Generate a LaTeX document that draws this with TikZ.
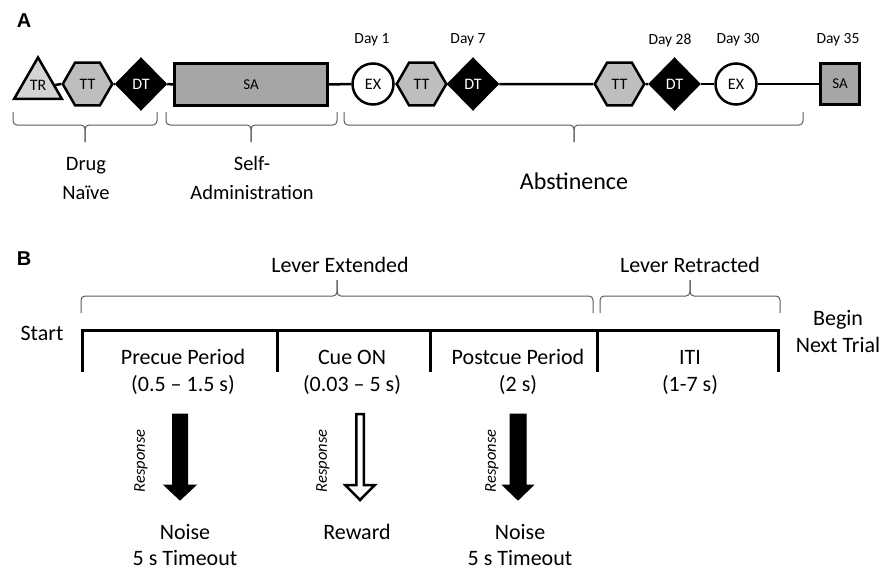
\documentclass[tikz,border=0pt]{standalone}
\usepackage{fontspec}
\setmainfont{Carlito}
\newfontfamily\arialfont{Liberation Sans}
\usetikzlibrary{shapes.geometric}
\definecolor{trgray}{RGB}{212,212,212}
\definecolor{ttgray}{RGB}{190,190,190}
\definecolor{sagray}{RGB}{166,166,166}
\definecolor{bracegray}{RGB}{90,90,90}
\newcommand\fs[2]{\fontsize{#1}{#2}\selectfont}
\newcommand\dnbrace[6]{% x1 x2 xm yend yline ytip
  \draw[bracestyle] (#1,#4) -- (#1,#5) -- (#3,#5) -- (#3,#6);
  \draw[bracestyle] (#2,#4) -- (#2,#5) -- (#3,#5) -- (#3,#6);}
\newcommand\blockdown[4]{% x, shaft half, head half, style
  \draw[#4] (#1-#2,414) -- (#1+#2,414) -- (#1+#2,485) -- (#1+#3,485) -- (#1,500) -- (#1-#3,485) -- (#1-#2,485) -- cycle;}
\begin{document}
\begin{tikzpicture}[x=1pt,y=-1pt,
  shp/.style={draw, line width=2.5pt, inner sep=0pt, font=\fs{16}{16}},
  tri/.style={shp, regular polygon, regular polygon sides=3, minimum size=55pt, fill=trgray},
  hex/.style={shp, regular polygon, regular polygon sides=6, minimum size=49.5pt, fill=ttgray},
  dia/.style={shp, diamond, minimum width=50pt, minimum height=51pt, fill=black, text=white},
  exc/.style={shp, circle, minimum size=41pt, fill=white},
  sab/.style={shp, rectangle, fill=sagray},
  tl/.style={line width=2.5pt},
  bracestyle/.style={draw=bracegray, line width=1pt, rounded corners=4pt},
  lbl/.style={font=\arialfont\bfseries\fs{20}{20}},
  daytxt/.style={font=\fs{15.5}{15.5}},
  txt/.style={font=\fs{22}{27}, align=center},
  resp/.style={font=\itshape\fs{16.5}{16.5}, rotate=90}]
\useasboundingbox (0,0) rectangle (893,570);
% ---------------- Panel A ----------------
\node[lbl] (labA) at (24,21) {A};
\node[tri] (tr) at (38,85) {TR};
\node[hex] (tt1) at (87.5,84) {TT};
\node[dia] (dt1) at (141,84) {DT};
\node[sab, minimum width=153pt, minimum height=42pt, font=\fs{15}{15}] (sa1) at (251,84.5) {SA};
\node[exc] (ex1) at (373,84) {EX};
\node[hex] (tt2) at (421.5,84) {TT};
\node[dia] (dt2) at (473,84) {DT};
\node[hex] (tt3) at (619.5,84) {TT};
\node[dia] (dt3) at (674.5,84) {DT};
\node[exc] (ex2) at (736,84) {EX};
\node[sab, minimum width=39pt, minimum height=41pt, font=\fs{15}{15}] (sa2) at (840,84) {SA};
\draw[tl] (tr.east) -- (tt1.west);
\draw[tl] (tt1.east) -- (dt1.west);
\draw[tl] (dt1.east) -- (sa1.west);
\draw[tl] (sa1.east) -- (ex1.west);
\draw[tl] (ex1.east) -- (tt2.west);
\draw[tl] (tt2.east) -- (dt2.west);
\draw[tl] (dt2.east) -- (tt3.west);
\draw[tl] (tt3.east) -- (dt3.west);
\draw[tl] (dt3.east) -- (ex2.west);
\draw[tl] (ex2.east) -- (sa2.west);
\node[daytxt] (d1) at (372,40) {Day 1};
\node[daytxt] (d7) at (468,40) {Day 7};
\node[daytxt] (d28) at (670,40) {Day 28};
\node[daytxt] (d30) at (738,40) {Day 30};
\node[daytxt] (d35) at (838,40) {Day 35};
\dnbrace{13}{157}{85}{112}{125}{142}
\dnbrace{166}{337}{251}{112}{125}{142}
\dnbrace{344}{803}{574}{112}{125}{142}
\node[font=\fs{20.5}{29}, align=center] (naive) at (86,178) {Drug\\Naïve};
\node[font=\fs{20.5}{29}, align=center] (selfadm) at (252,178) {Self-\\Administration};
\node[font=\fs{24}{24}] (abst) at (574,181) {Abstinence};
% ---------------- Panel B ----------------
\node[lbl] (labB) at (24,259) {B};
\node[txt] (levext) at (340,265) {Lever Extended};
\node[txt] (levret) at (690,265) {Lever Retracted};
\draw[bracestyle] (81,313) -- (81,296) -- (337,296) -- (337,280);
\draw[bracestyle] (593,313) -- (593,296) -- (337,296) -- (337,280);
\draw[bracestyle] (600,313) -- (600,296) -- (690,296) -- (690,280);
\draw[bracestyle] (780,313) -- (780,296) -- (690,296) -- (690,280);
\node[txt] (start) at (42,333) {Start};
\node[txt] (begin) at (838,332) {Begin\\Next Trial};
\draw[line width=3pt] (82,372) -- (82,330) -- (778,330) -- (778,372);
\draw[line width=3pt] (277,330) -- (277,372);
\draw[line width=3pt] (430,330) -- (430,372);
\draw[line width=3pt] (597,330) -- (597,372);
\node[txt] (precue) at (183,372) {Precue Period\\(0.5 – 1.5 s)};
\node[txt] (cue) at (352,372) {Cue ON\\(0.03 – 5 s)};
\node[txt] (postcue) at (518,372) {Postcue Period\\(2 s)};
\node[txt] (iti) at (690,372) {ITI\\(1-7 s)};
\blockdown{180}{7.5}{16}{fill=black, draw=black, line width=1pt}
\blockdown{360}{3.75}{14.75}{fill=white, draw=black, line width=2.5pt}
\blockdown{518}{8}{15.5}{fill=black, draw=black, line width=1pt}
\node[resp] (r1) at (141,461) {Response};
\node[resp] (r2) at (323,461) {Response};
\node[resp] (r3) at (492,461) {Response};
\node[txt, font=\fs{22}{26}] (noise1) at (185,545) {Noise\\5 s Timeout};
\node[txt] (reward) at (357,532) {Reward};
\node[txt, font=\fs{22}{26}] (noise2) at (520,545) {Noise\\5 s Timeout};
\end{tikzpicture}
\end{document}
